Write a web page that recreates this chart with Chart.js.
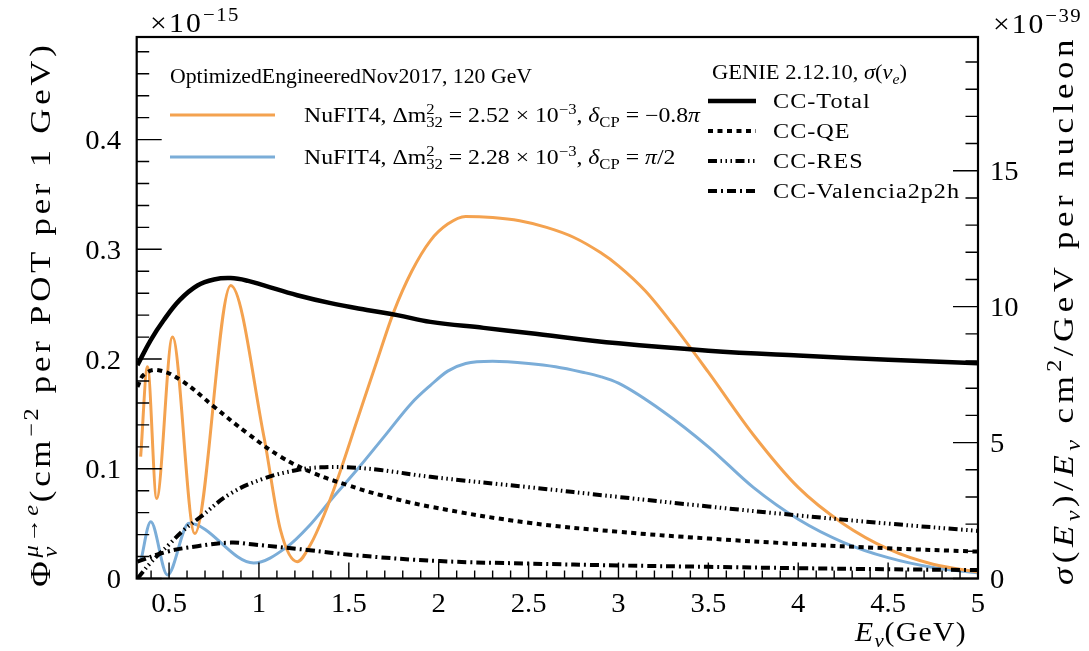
<!DOCTYPE html>
<html><head><meta charset="utf-8">
<script src="https://cdn.jsdelivr.net/npm/chart.js@4.4.1/dist/chart.umd.min.js"></script>
<style>html,body{margin:0;padding:0;background:#fff;}canvas{display:block;}</style>
</head><body>
<canvas id="c" width="1089" height="651"></canvas>
<script>
// ---------------- data ----------------
const orangeE    = [0.342,0.38,0.431,0.519,0.643,0.843,1.028,1.12,1.213,1.287,1.36,1.436,1.55,1.65,1.75,1.85,1.954,2.05,2.15,2.3,2.45,2.6,2.75,2.9,3.0,3.15,3.3,3.5,3.75,4.0,4.25,4.5,4.75,5.0];
const orangeFlux = [0.111,0.193,0.073,0.220,0.041,0.267,0.129,0.044,0.0153,0.031,0.057,0.090,0.146,0.195,0.243,0.280,0.308,0.323,0.330,0.329,0.326,0.320,0.311,0.297,0.285,0.262,0.232,0.188,0.131,0.083,0.050,0.027,0.013,0.006];
const blueE      = [0.342,0.398,0.491,0.611,0.971,1.158,1.28,1.40,1.55,1.70,1.85,1.954,2.05,2.15,2.3,2.5,2.65,2.8,2.9,3.0,3.25,3.5,3.75,4.0,4.25,4.5,4.75,5.0];
const blueFlux   = [0.0153,0.0517,0.0032,0.0503,0.0141,0.029,0.048,0.0715,0.100,0.130,0.160,0.176,0.189,0.196,0.198,0.196,0.193,0.188,0.184,0.178,0.152,0.120,0.083,0.054,0.033,0.019,0.010,0.005];
const totalE     = [0.324,0.398,0.47,0.56,0.658,0.75,0.843,0.94,1.028,1.213,1.399,1.6,1.769,1.954,2.25,2.5,3.0,3.5,4.0,4.5,5.0];
const totalXs    = [7.85,8.77,9.50,10.25,10.78,11.0,11.05,10.95,10.78,10.42,10.13,9.88,9.69,9.44,9.22,9.03,8.65,8.38,8.20,8.05,7.92];
const qeE        = [0.324,0.36,0.435,0.565,0.75,0.936,1.121,1.306,1.491,1.676,1.954,2.5,3.0,3.5,4.0,4.5,5.0];
const qeXs       = [7.05,7.5,7.67,7.30,6.32,5.34,4.48,3.87,3.44,3.07,2.64,2.05,1.72,1.47,1.27,1.11,0.99];
const resE       = [0.324,0.40,0.50,0.581,0.676,0.843,1.028,1.213,1.343,1.491,1.676,1.954,2.5,3.0,3.5,4.0,4.5,5.0];
const resXs      = [0.0,0.6,1.25,1.78,2.27,3.13,3.68,3.99,4.09,4.09,3.99,3.74,3.36,3.0,2.65,2.32,2.02,1.75];
const mecE       = [0.324,0.491,0.658,0.843,0.972,1.269,1.528,2.006,2.5,3.0,3.5,4.0,4.5,5.0];
const mecXs      = [0.62,0.99,1.19,1.32,1.25,1.05,0.86,0.64,0.55,0.48,0.43,0.38,0.34,0.31];
const xTicks     = [0.5,1,1.5,2,2.5,3,3.5,4,4.5,5];
const leftTicks  = [0,0.1,0.2,0.3,0.4];
const rightTicks = [0,5,10,15];

// ---------------- styling ----------------
const FONT = "'Liberation Serif','DejaVu Serif',serif";
const ORANGE = '#f4a24f', BLUE = '#7badd8';
const pts = (xs, ys) => xs.map((x, i) => ({x, y: ys[i]}));
const nChars = t => [...t].length;

// lay out a run of text parts (sup/sub/stacked), with optional extra letter spacing ls
function layoutRich(ctx, parts, base, ls) {
  ls = ls || 0;
  let x = 0, pendX = null, pendW = 0; const out = [];
  try { ctx.letterSpacing = '0px'; } catch (e) {}
  for (const p of parts) {
    const small = (p.sup || p.sub);
    const s = base * (small ? 0.7 : 1);
    const font = (p.it ? 'italic ' : '') + s.toFixed(2) + 'px ' + FONT;
    ctx.font = font;
    const l = small ? ls * 0.7 : ls;
    const w = ctx.measureText(p.t).width + l * nChars(p.t);
    const dy = p.sup ? -0.40 * base : p.sub ? 0.22 * base : 0;
    if (pendX !== null) { out.push({t: p.t, font, x: pendX, dy, l}); x = pendX + Math.max(pendW, w); pendX = null; }
    else { out.push({t: p.t, font, x, dy, l}); if (p.keep) { pendX = x; pendW = w; } else x += w; }
  }
  return {items: out, width: x};
}
function drawRich(ctx, parts, base, x, y, align, rot, sx, ls) {
  const L = layoutRich(ctx, parts, base, ls);
  sx = sx || 1;
  ctx.save(); ctx.translate(x, y); if (rot) ctx.rotate(rot); ctx.scale(sx, 1);
  const x0 = align === 'right' ? -L.width : align === 'center' ? -L.width / 2 : 0;
  ctx.textAlign = 'left'; ctx.textBaseline = 'alphabetic'; ctx.fillStyle = '#000';
  for (const it of L.items) {
    ctx.font = it.font;
    try { ctx.letterSpacing = it.l.toFixed(2) + 'px'; } catch (e) {}
    ctx.fillText(it.t, x0 + it.x, it.dy);
  }
  try { ctx.letterSpacing = '0px'; } catch (e) {}
  ctx.restore();
}
// letter spacing needed so that (width * sx) hits the target
function spacingFor(ctx, parts, base, sx, target) {
  const w0 = layoutRich(ctx, parts, base, 0).width;
  const n = parts.reduce((acc, p) => acc + nChars(p.t) * ((p.sup || p.sub) ? 0.7 : 1), 0);
  return Math.max(0, (target / sx - w0) / n);
}
// draw fitted to a target width: modest stretch plus letter spacing
function drawFit(ctx, parts, base, x, y, align, rot, target, sxMax) {
  const w0 = layoutRich(ctx, parts, base, 0).width;
  const sx = Math.max(0.85, Math.min(sxMax || 1.1, target / w0));
  const ls = spacingFor(ctx, parts, base, sx, target);
  drawRich(ctx, parts, base, x, y, align, rot, sx, ls);
  return {sx, ls};
}

const S = (t, o = {}) => Object.assign({t}, o);
const leftTitle = [S('Φ'), S('μ→e', {sup: 1, it: 1, keep: 1}), S('ν', {sub: 1, it: 1}), S('(cm'), S('−2', {sup: 1}), S(' per POT per 1 GeV)')];
const rightTitle = [S('σ', {it: 1}), S('('), S('E', {it: 1}), S('ν', {sub: 1, it: 1}), S(')/'), S('E', {it: 1}), S('ν', {sub: 1, it: 1}), S(' cm'), S('2', {sup: 1}), S('/GeV per nucleon')];
const xTitle = [S('E', {it: 1}), S('ν', {sub: 1, it: 1}), S('(GeV)')];
const mulL = [S('×10'), S('−15', {sup: 1})];
const mulR = [S('×10'), S('−39', {sup: 1})];
const fluxTitle = [S('OptimizedEngineeredNov2017, 120 GeV')];
const orangeLbl = [S('NuFIT4, Δm'), S('2', {sup: 1, keep: 1}), S('32', {sub: 1}), S(' = 2.52 × 10'), S('−3', {sup: 1}), S(', '), S('δ', {it: 1}), S('CP', {sub: 1}), S(' = −0.8'), S('π', {it: 1})];
const blueLbl = [S('NuFIT4, Δm'), S('2', {sup: 1, keep: 1}), S('32', {sub: 1}), S(' = 2.28 × 10'), S('−3', {sup: 1}), S(', '), S('δ', {it: 1}), S('CP', {sub: 1}), S(' = '), S('π', {it: 1}), S('/2')];
const genieTitle = [S('GENIE 2.12.10, '), S('σ', {it: 1}), S('('), S('ν', {it: 1}), S('e', {sub: 1, it: 1}), S(')')];
const xsNames = ['CC-Total', 'CC-QE', 'CC-RES', 'CC-Valencia2p2h'];

const DASH_QE = [5, 4.5], DASH_RES = [9, 3.5, 1.5, 3.5, 1.5, 3.5, 1.5, 3.5], DASH_MEC = [9, 4, 2, 4];
const fmt = v => String(+(+v).toFixed(3));
const VERT = -Math.PI / 2;

const decor = {
  id: 'decor',
  afterDatasetsDraw(chart) {
    const ctx = chart.ctx, a = chart.chartArea;
    const sx = chart.scales.x, sl = chart.scales.yL, sr = chart.scales.yR;
    ctx.save();
    ctx.strokeStyle = '#000'; ctx.lineWidth = 1.4; ctx.setLineDash([]); ctx.lineCap = 'butt';
    // inward ticks
    ctx.beginPath();
    for (let k = 4; k <= 50; k++) {
      const px = sx.getPixelForValue(k / 10); const len = k % 5 === 0 ? 16 : 8;
      ctx.moveTo(px, a.bottom); ctx.lineTo(px, a.bottom - len);
    }
    for (let k = 0; k <= 24; k++) {
      const py = sl.getPixelForValue(k * 0.02); const len = k % 5 === 0 ? 25 : 12.5;
      ctx.moveTo(a.left, py); ctx.lineTo(a.left + len, py);
    }
    for (let k = 0; k <= 19; k++) {
      const py = sr.getPixelForValue(k); const len = k % 5 === 0 ? 25 : 12.5;
      ctx.moveTo(a.right, py); ctx.lineTo(a.right - len, py);
    }
    ctx.stroke();
    ctx.lineWidth = 2.2; ctx.strokeRect(a.left, a.top, a.right - a.left, a.bottom - a.top);

    // tick labels
    const TB = 27, TS = 1.06;
    xTicks.forEach(v => drawRich(ctx, [S(fmt(v))], TB, sx.getPixelForValue(v), 612, 'center', 0, TS));
    leftTicks.forEach(v => drawRich(ctx, [S(fmt(v))], TB, 121, sl.getPixelForValue(v) + 9.5, 'right', 0, TS));
    rightTicks.forEach(v => drawRich(ctx, [S(fmt(v))], TB, 990, sr.getPixelForValue(v) + 9.5, 'left', 0, TS));

    // axis titles / multipliers
    drawFit(ctx, leftTitle, 30, 40 + 10, 314, 'center', VERT, 548, 1.16);
    drawFit(ctx, rightTitle, 30, 1063 + 10, 310, 'center', VERT, 550, 1.16);
    drawFit(ctx, xTitle, 27, 967, 641, 'right', 0, 112, 1.1);
    drawFit(ctx, mulL, 27, 150, 32, 'left', 0, 90, 1.1);
    drawFit(ctx, mulR, 27, 993, 33, 'left', 0, 89, 1.1);

    // flux legend
    const LB = 20.5;
    drawFit(ctx, fluxTitle, LB, 170, 76 + 7, 'left', 0, 362, 1.18);
    const fo = drawFit(ctx, orangeLbl, LB, 304, 115 + 7, 'left', 0, 396, 1.18);
    drawRich(ctx, blueLbl, LB, 304, 157 + 7, 'left', 0, fo.sx, fo.ls);
    ctx.lineWidth = 3;
    ctx.strokeStyle = ORANGE; ctx.beginPath(); ctx.moveTo(170, 115); ctx.lineTo(275, 115); ctx.stroke();
    ctx.strokeStyle = BLUE; ctx.beginPath(); ctx.moveTo(170, 157); ctx.lineTo(275, 157); ctx.stroke();

    // cross-section legend
    drawFit(ctx, genieTitle, LB, 712, 72 + 7, 'left', 0, 195, 1.18);
    const w0 = layoutRich(ctx, [S(xsNames[3])], LB, 0).width;
    const csx = Math.min(1.18, 187 / w0), cls = spacingFor(ctx, [S(xsNames[3])], LB, csx, 187);
    const dashes = [[], DASH_QE, DASH_RES, DASH_MEC];
    ctx.strokeStyle = '#000';
    xsNames.forEach((n, i) => {
      const y = 101 + 30 * i;
      ctx.lineWidth = i === 0 ? 4.5 : 4; ctx.setLineDash(dashes[i]);
      ctx.beginPath(); ctx.moveTo(708, y); ctx.lineTo(756, y); ctx.stroke();
      ctx.setLineDash([]);
      drawRich(ctx, [S(n)], LB, 773, y + 7, 'left', 0, csx, cls);
    });
    ctx.restore();
  }
};

const hideTicks = {display: false};
new Chart(document.getElementById('c'), {
  type: 'line',
  data: {
    datasets: [
      {label: 'CC-Total', data: pts(totalE, totalXs), yAxisID: 'yR', borderColor: '#000', borderWidth: 4.5, tension: 0.4},
      {label: 'CC-QE', data: pts(qeE, qeXs), yAxisID: 'yR', borderColor: '#000', borderWidth: 4, borderDash: DASH_QE, tension: 0.4},
      {label: 'CC-RES', data: pts(resE, resXs), yAxisID: 'yR', borderColor: '#000', borderWidth: 4, borderDash: DASH_RES, tension: 0.4},
      {label: 'CC-Valencia2p2h', data: pts(mecE, mecXs), yAxisID: 'yR', borderColor: '#000', borderWidth: 4, borderDash: DASH_MEC, tension: 0.4},
      {label: 'NuFIT4 dCP=-0.8pi', data: pts(orangeE, orangeFlux), yAxisID: 'yL', borderColor: ORANGE, borderWidth: 3, cubicInterpolationMode: 'monotone'},
      {label: 'NuFIT4 dCP=pi/2', data: pts(blueE, blueFlux), yAxisID: 'yL', borderColor: BLUE, borderWidth: 3, cubicInterpolationMode: 'monotone'}
    ]
  },
  options: {
    responsive: false, animation: false, devicePixelRatio: 1,
    layout: {padding: {top: 37, left: 0, right: 0, bottom: 0}},
    plugins: {legend: {display: false}, tooltip: {enabled: false}},
    elements: {point: {radius: 0}, line: {borderCapStyle: 'butt', fill: false}},
    scales: {
      x: {type: 'linear', position: 'bottom', min: 0.32, max: 5,
          afterFit(s) { s.height = 72.5; }, grid: {display: false}, border: {display: false},
          ticks: Object.assign({stepSize: 0.5}, hideTicks)},
      yL: {type: 'linear', position: 'left', min: 0, max: 0.4935,
          afterFit(s) { s.width = 136.7; }, grid: {display: false}, border: {display: false},
          ticks: Object.assign({stepSize: 0.1}, hideTicks)},
      yR: {type: 'linear', position: 'right', min: 0, max: 19.92,
          afterFit(s) { s.width = 111; }, grid: {display: false}, border: {display: false},
          ticks: Object.assign({stepSize: 5}, hideTicks)}
    }
  },
  plugins: [decor]
});
</script>
</body></html>
